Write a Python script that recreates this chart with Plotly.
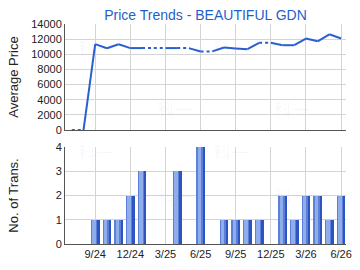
import plotly.graph_objects as go

months = ["7/24","8/24","9/24","10/24","11/24","12/24","1/25","2/25","3/25","4/25","5/25","6/25",
          "7/25","8/25","9/25","10/25","11/25","12/25","1/26","2/26","3/26","4/26","5/26","6/26"]
avg_price = [0, 0, 11350, 10800, 11330, 10820, 10820, 10820, 10820, 10820, 10820, 10380,
             10380, 10900, 10780, 10680, 11520, 11520, 11200, 11200, 12080, 11720, 12640, 12080]
num_trans = [0, 0, 1, 1, 1, 2, 3, 0, 0, 3, 0, 4, 0, 1, 1, 1, 1, 0, 2, 1, 2, 2, 1, 2]
tick_labels = ["9/24", "12/24", "3/25", "6/25", "9/25", "12/25", "3/26", "6/26"]
tick_idx = [months.index(t) for t in tick_labels]
price_ticks = [0, 2000, 4000, 6000, 8000, 10000, 12000, 14000]
trans_ticks = [0, 1, 2, 3, 4]

x = list(range(len(months)))
LINE = "#2a5fd0"
fig = go.Figure()

# price line: segment ending at a month with no transactions is dotted
for i in range(len(x) - 1):
    dotted = num_trans[i + 1] == 0
    fig.add_trace(go.Scatter(
        x=[x[i], x[i + 1]], y=[avg_price[i], avg_price[i + 1]],
        mode="lines", xaxis="x", yaxis="y",
        line=dict(color=LINE, width=2, dash="dot" if dotted else "solid"),
        showlegend=False, hoverinfo="skip"))

bx = [xi for xi, n in zip(x, num_trans) if n > 0]
by = [n for n in num_trans if n > 0]
for w, off, col in [(0.75, -0.375, "#2d54c0"), (0.55, -0.375, "#5c80d8"), (0.3, -0.26, "#8fadeb")]:
    fig.add_trace(go.Bar(x=bx, y=by, width=w, offset=off, marker=dict(color=col, line=dict(width=0)),
                         xaxis="x2", yaxis="y2", showlegend=False, hoverinfo="skip"))

xr = [-0.58, 23.42]
axis_common = dict(showline=True, linecolor="#555555", linewidth=1, gridcolor="#d4d4d4", gridwidth=1,
                   zeroline=False, ticks="", tickfont=dict(family="Arial", size=11, color="#222222"))

fig.update_layout(
    width=360, height=270, margin=dict(l=65, r=8, t=24, b=26),
    paper_bgcolor="white", plot_bgcolor="white", barmode="overlay",
    font=dict(family="Arial"),
    title=dict(text="Price Trends - BEAUTIFUL GDN", x=0.5, xanchor="center", y=0.945, yanchor="middle",
               xref="paper", font=dict(family="Arial", size=14, color="#1f5fcc")),
    xaxis=dict(domain=[0, 1], range=xr, tickvals=tick_idx, ticktext=[""] * len(tick_idx),
               anchor="y", **axis_common),
    yaxis=dict(domain=[0.518, 1], range=[0, 14000], tickvals=price_ticks,
               ticktext=[str(v) for v in price_ticks], anchor="x",
               title=dict(text="Average Price", font=dict(family="Arial", size=13, color="#222222"), standoff=9),
               **axis_common),
    xaxis2=dict(domain=[0, 1], range=xr, tickvals=tick_idx, ticktext=tick_labels, anchor="y2",
                **axis_common),
    yaxis2=dict(domain=[0, 0.441], range=[0, 4], tickvals=trans_ticks, anchor="x2",
                title=dict(text="No. of Trans.", font=dict(family="Arial", size=13, color="#222222"), standoff=34),
                **axis_common),
    bargap=0,
)

for (px, py) in [(0.04, 0.96), (0.59, 0.96), (0.32, 0.68), (0.88, 0.68), (0.04, 0.42), (0.59, 0.42), (0.32, 0.15), (0.88, 0.15)]:
    fig.add_annotation(text="科一", x=px, y=py, xref="paper", yref="paper", showarrow=False,
                       font=dict(size=18, color="rgba(0,0,0,0.035)", family="Noto Sans CJK SC"))

fig.write_html("out.html")
